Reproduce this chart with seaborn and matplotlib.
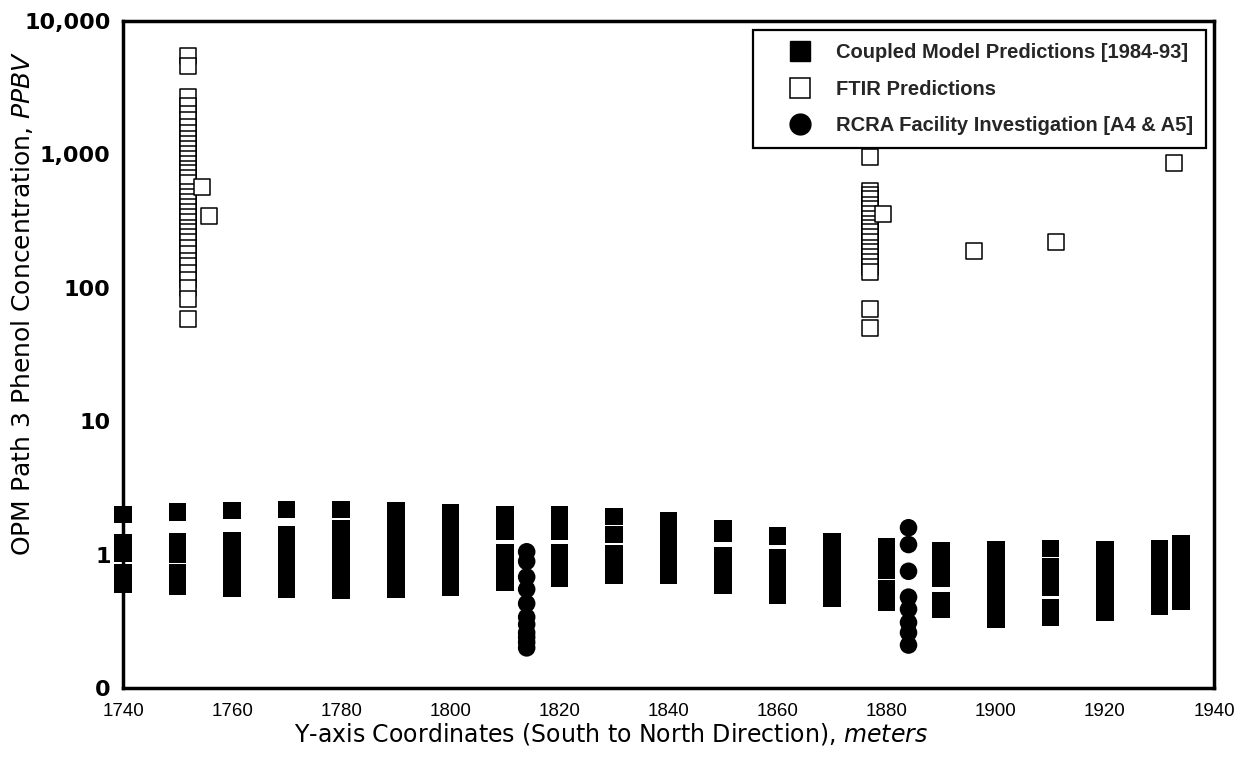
import numpy as np
import pandas as pd
import matplotlib
matplotlib.use("Agg")
import matplotlib.pyplot as plt
import seaborn as sns
from matplotlib.lines import Line2D
from matplotlib.ticker import MultipleLocator, LogLocator, NullFormatter

sns.set_theme(style="white")
plt.rcParams['font.family'] = ['Liberation Sans', 'DejaVu Sans']
plt.rcParams['mathtext.fontset'] = 'custom'
plt.rcParams['mathtext.rm'] = 'DejaVu Sans'
plt.rcParams['mathtext.it'] = 'DejaVu Sans:italic'

# Coupled model predictions [1984-93]: y-coordinate (m) and concentrations (ppbv)
model_y = [1740, 1750, 1760, 1770, 1780, 1790, 1800, 1810, 1820, 1830, 1840,
           1850, 1860, 1870, 1880, 1890, 1900, 1910, 1920, 1930, 1934]
model_ppbv = [
    [2.0, 1.23, 1.03, 0.73, 0.60],
    [2.08, 1.25, 1.0, 0.73, 0.58],
    [2.14, 1.27, 1.0, 0.79, 0.62, 0.56],
    [2.18, 1.41, 1.09, 0.84, 0.65, 0.55],
    [2.18, 1.57, 1.23, 0.95, 0.73, 0.54],
    [2.14, 1.68, 1.30, 1.0, 0.75, 0.55],
    [2.07, 1.62, 1.27, 0.98, 0.77, 0.57],
    [2.0, 1.49, 1.03, 0.80, 0.62],
    [2.0, 1.51, 1.03, 0.83, 0.66],
    [1.93, 1.41, 1.02, 0.81, 0.70],
    [1.80, 1.41, 1.11, 0.89, 0.70],
    [1.57, 1.44, 0.98, 0.76, 0.59],
    [1.38, 0.95, 0.75, 0.59, 0.50],
    [1.25, 0.98, 0.77, 0.61, 0.47],
    [1.15, 0.89, 0.76, 0.55, 0.44],
    [1.07, 0.83, 0.67, 0.45, 0.39],
    [1.09, 0.84, 0.65, 0.50, 0.38, 0.33],
    [1.11, 0.81, 0.64, 0.57, 0.40, 0.34],
    [1.09, 0.84, 0.65, 0.50, 0.41, 0.37],
    [1.11, 0.86, 0.66, 0.51, 0.41],
    [1.21, 0.93, 0.72, 0.57, 0.45],
]

# FTIR predictions
ftir_y = [1752, 1754.5, 1755.8, 1877, 1879.3, 1896, 1911, 1914, 1932.7]
ftir_ppbv = [
    [5450, 4580, 2700, 2300, 2000, 1800, 1600, 1450, 1300, 1200, 1100, 1000,
     920, 850, 780, 720, 660, 610, 520, 480, 440, 400, 370, 340, 310, 280,
     260, 240, 220, 200, 180, 160, 145, 130, 115, 100, 82, 58],
    [570],
    [345],
    [950, 535, 500, 460, 420, 390, 360, 330, 300, 280, 260, 240, 220, 200,
     185, 170, 155, 142, 132, 69, 50],
    [360],
    [188],
    [219],
    [1420],
    [857],
]

# RCRA Facility Investigation [A4 & A5]
rcra_y = [1814, 1884]
rcra_ppbv = [
    [1.05, 0.89, 0.68, 0.55, 0.43, 0.34, 0.30, 0.26, 0.24, 0.22, 0.20],
    [1.59, 1.19, 0.75, 0.48, 0.39, 0.31, 0.26, 0.21],
]

series_names = ["Coupled Model Predictions [1984-93]", "FTIR Predictions",
                "RCRA Facility Investigation [A4 & A5]"]

y_ticks = [0.1, 1, 10, 100, 1000, 10000]
y_tick_labels = ["0", "1", "10", "100", "1,000", "10,000"]
x_ticks = [1740, 1760, 1780, 1800, 1820, 1840, 1860, 1880, 1900, 1920, 1940]


def to_frame(ys, vals):
    rows = [(y, v) for y, vs in zip(ys, vals) for v in vs]
    return pd.DataFrame(rows, columns=["y_coord", "ppbv"])


df_model = to_frame(model_y, model_ppbv)
df_ftir = to_frame(ftir_y, ftir_ppbv)
df_rcra = to_frame(rcra_y, rcra_ppbv)

fig = plt.figure(figsize=(12.5, 7.61), dpi=100)
ax = fig.add_axes([0.0984, 0.0959, 0.8728, 0.8765])

sns.scatterplot(data=df_model, x="y_coord", y="ppbv", ax=ax, marker="s",
                s=160, color="black", edgecolor="none", linewidth=0,
                clip_on=False, zorder=3)
sns.scatterplot(data=df_ftir, x="y_coord", y="ppbv", ax=ax, marker="s",
                s=125, facecolor="white", edgecolor="black", linewidth=1.1,
                clip_on=False, zorder=3)
sns.scatterplot(data=df_rcra, x="y_coord", y="ppbv", ax=ax, marker="o",
                s=160, color="black", edgecolor="none", linewidth=0,
                clip_on=False, zorder=4)

ax.set_yscale("log")
ax.set_ylim(0.1, 10000)
ax.set_xlim(1740, 1940)
ax.set_yticks(y_ticks)
ax.set_yticklabels(y_tick_labels)
ax.yaxis.set_minor_locator(LogLocator(base=10, subs=np.arange(2, 10)))
ax.yaxis.set_minor_formatter(NullFormatter())
ax.set_xticks(x_ticks)
ax.set_xticklabels([str(t) for t in x_ticks])
ax.xaxis.set_minor_locator(MultipleLocator(5))

for side in ["left", "right", "top", "bottom"]:
    ax.spines[side].set_linewidth(2.5)
    ax.spines[side].set_color("black")

ax.tick_params(axis="both", which="major", direction="inout", length=10,
               width=2, color="black")
ax.tick_params(axis="both", which="minor", direction="out", length=4,
               width=2, color="black")
ax.tick_params(axis="y", which="both", right=False)
ax.tick_params(axis="x", which="both", top=False)
ax.tick_params(axis="x", which="major", labelsize=13.5, pad=6)
ax.tick_params(axis="y", which="major", labelsize=16, pad=4)
for lab in ax.get_yticklabels():
    lab.set_fontweight("bold")
    lab.set_family("DejaVu Sans")
    lab.set_color("black")
for lab in ax.get_xticklabels():
    lab.set_color("black")

ax.set_xlabel(r"Y-axis Coordinates (South to North Direction), $\it{meters}$",
              fontsize=17, color="black", family="DejaVu Sans")
ax.xaxis.set_label_coords(0.447, -0.049)
ax.set_ylabel(r"OPM Path 3 Phenol Concentration, $\it{PPBV}$",
              fontsize=18, color="black", family="DejaVu Sans")
ax.yaxis.set_label_coords(-0.081, 0.577)

handles = [
    Line2D([], [], linestyle="none", marker="s", markersize=15,
           markerfacecolor="black", markeredgecolor="black"),
    Line2D([], [], linestyle="none", marker="s", markersize=14,
           markerfacecolor="white", markeredgecolor="black",
           markeredgewidth=1.1),
    Line2D([], [], linestyle="none", marker="o", markersize=15,
           markerfacecolor="black", markeredgecolor="black"),
]
leg = ax.legend(handles, series_names, loc="upper left",
                bbox_to_anchor=(0.577, 0.9865), frameon=True, fancybox=False,
                framealpha=1, edgecolor="black", borderpad=0.65,
                labelspacing=0.87, handlelength=3.4, handletextpad=0.1,
                borderaxespad=0, prop={"weight": "bold", "size": 14.5})
leg.get_frame().set_linewidth(1.6)
leg.set_zorder(10)

fig.savefig("out.png", dpi=100, facecolor="white")
